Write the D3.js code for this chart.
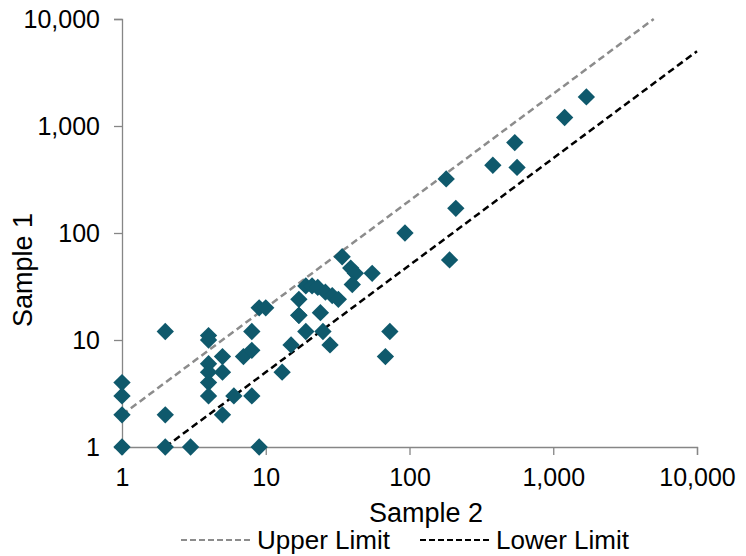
<!DOCTYPE html>
<html>
<head>
<meta charset="utf-8">
<script src="https://cdn.jsdelivr.net/npm/d3@7"></script>
<style>
  body { margin: 0; background: #fff; }
  text { font-family: "Liberation Sans", Arial, sans-serif; fill: #000; }
</style>
</head>
<body>
<div id="vis"></div>
<script>
// Sample 2 (x) vs Sample 1 (y)
var sample2 = [1, 1, 1, 1, 2, 2, 2, 3, 9,
  4, 4, 4, 4, 4, 4, 5, 5, 5, 6, 7, 8, 8, 8, 9, 10,
  13, 15, 17, 17, 17, 19, 21, 23, 26, 29, 32, 24, 19, 25, 28,
  34, 39, 42, 55, 40, 93, 73, 68,
  190, 180, 210, 380, 540, 560, 1200, 1700];
var sample1 = [1, 2, 3, 4, 12, 2, 1, 1, 1,
  11, 10, 6, 5, 4, 3, 7, 5, 2, 3, 7, 8, 12, 3, 20, 20,
  5, 9, 17, 24, 17, 32, 32, 31, 28, 26, 24, 18, 12, 12, 9,
  60, 47, 42, 42, 33, 100, 12, 7,
  56, 320, 170, 430, 700, 410, 1200, 1870];

var upperLine = [[1, 2], [5000, 10000]];
var lowerLine = [[2, 1], [10000, 5000]];
var tickValues = [1, 10, 100, 1000, 10000];

var margin = {top: 19, right: 49, bottom: 109, left: 122},
    width = 746 - margin.left - margin.right,
    height = 556 - margin.top - margin.bottom;

var x = d3.scaleLog().domain([1, 10000]).range([0, width]);
var y = d3.scaleLog().domain([1, 10000]).range([height, 0]);

var svg = d3.select("#vis").append("svg")
    .attr("width", 746)
    .attr("height", 556);

var g = svg.append("g")
    .attr("transform", "translate(" + margin.left + "," + margin.top + ")");

var fmt = d3.format(",");

var xAxis = d3.axisBottom(x).tickValues(tickValues).tickFormat(fmt).tickSize(8).tickPadding(13);
var yAxis = d3.axisLeft(y).tickValues(tickValues).tickFormat(fmt).tickSize(8).tickPadding(14);

var gx = g.append("g")
    .attr("transform", "translate(0," + height + ")")
    .call(xAxis);
var gy = g.append("g").call(yAxis);

[gx, gy].forEach(function(a) {
  a.select(".domain").attr("stroke", "#868686").attr("stroke-width", 1.3);
  a.selectAll(".tick line").attr("stroke", "#868686").attr("stroke-width", 1.3);
  a.selectAll(".tick text")
    .style("font-family", "'Liberation Sans', Arial, sans-serif")
    .style("font-size", "25px")
    .attr("fill", "#000");
});
gy.selectAll(".tick text").attr("dy", "0.35em");

// limit lines
var line = d3.line()
    .x(function(d) { return x(d[0]); })
    .y(function(d) { return y(d[1]); });

g.append("path")
    .datum(upperLine)
    .attr("d", line)
    .attr("fill", "none")
    .attr("stroke", "#8c8c8c")
    .attr("stroke-width", 2.5)
    .attr("stroke-dasharray", "7,4");

g.append("path")
    .datum(lowerLine)
    .attr("d", line)
    .attr("fill", "none")
    .attr("stroke", "#000")
    .attr("stroke-width", 2.5)
    .attr("stroke-dasharray", "7,4");

// points
var diamond = d3.symbol().type(d3.symbolSquare).size(150);
g.append("g").selectAll("path")
    .data(sample2.map(function(v, i) { return [v, sample1[i]]; }))
    .enter().append("path")
    .attr("d", diamond)
    .attr("transform", function(d) {
      return "translate(" + x(d[0]) + "," + y(d[1]) + ") rotate(45)";
    })
    .attr("fill", "#0f596c");

// axis titles
svg.append("text")
    .attr("x", 426)
    .attr("y", 522)
    .attr("text-anchor", "middle")
    .style("font-size", "27px")
    .text("Sample 2");

svg.append("text")
    .attr("transform", "translate(32,270) rotate(-90)")
    .attr("text-anchor", "middle")
    .style("font-size", "27px")
    .text("Sample 1");

// legend
var legend = svg.append("g").attr("transform", "translate(0,540)");
var items = [
  {label: "Upper Limit", color: "#8c8c8c", x0: 181},
  {label: "Lower Limit", color: "#000", x0: 420}
];
items.forEach(function(it) {
  legend.append("line")
      .attr("x1", it.x0).attr("x2", it.x0 + 69)
      .attr("y1", 0).attr("y2", 0)
      .attr("stroke", it.color)
      .attr("stroke-width", 2)
      .attr("stroke-dasharray", "6,3");
  legend.append("text")
      .attr("x", it.x0 + 76)
      .attr("y", 0)
      .attr("dy", "0.35em")
      .style("font-size", "26px")
      .text(it.label);
});
</script>
</body>
</html>
